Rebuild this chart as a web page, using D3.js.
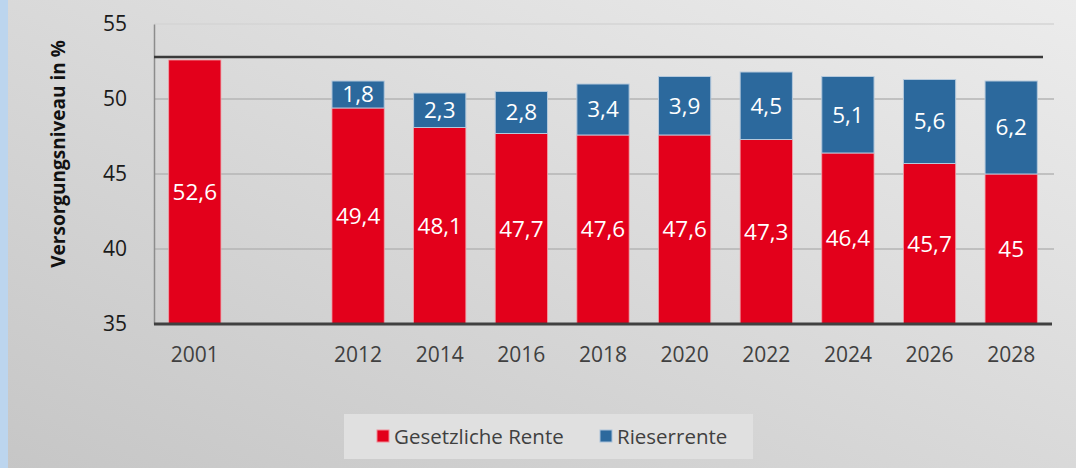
<!DOCTYPE html>
<html><head><meta charset="utf-8">
<script src="https://cdn.jsdelivr.net/npm/d3@7"></script>
<style>body{margin:0;overflow:hidden}svg{display:block}</style>
</head><body>
<script>
const categories = ["2001", "", "2012", "2014", "2016", "2018", "2020", "2022", "2024", "2026", "2028"];
const gesetzlich = [52.6, null, 49.4, 48.1, 47.7, 47.6, 47.6, 47.3, 46.4, 45.7, 45];
const riester = [null, null, 1.8, 2.3, 2.8, 3.4, 3.9, 4.5, 5.1, 5.6, 6.2];
const yTicks = [35, 40, 45, 50, 55];
const seriesNames = ["Gesetzliche Rente", "Rieserrente"];
const refLine = 52.8;

const W = 1076, H = 468;
const red = "#e3001b", blue = "#2c699d";
const FONT = "'Open Sans', sans-serif";
const svg = d3.select("body").append("svg").attr("width", W).attr("height", H);
const defs = svg.append("defs");
const g = defs.append("linearGradient").attr("id","bg").attr("x1","100%").attr("y1","0%").attr("x2","0%").attr("y2","100%");
g.append("stop").attr("offset","0%").attr("stop-color","#ececec");
g.append("stop").attr("offset","100%").attr("stop-color","#c6c6c6");
svg.append("rect").attr("width",W).attr("height",H).attr("fill","url(#bg)");
svg.append("rect").attr("width",8).attr("height",H).attr("fill","#bcd5ee");

const fmt = v => String(v).replace(".", ",");
const x = d3.scaleBand().domain(categories.map((c,i)=>i)).range([154, 1052]).paddingInner(0.36).paddingOuter(0.18);
const y = d3.scaleLinear().domain([35, 55]).range([324, 24]);

// gridlines
svg.append("g").selectAll("line").data(yTicks.slice(1)).join("line")
  .attr("x1",154).attr("x2",1054).attr("y1",d=>y(d)).attr("y2",d=>y(d))
  .attr("stroke", d => d===55 ? "#d4d4d4" : "#b4b4b4").attr("stroke-width",1.5);

// y axis
const yAxis = svg.append("g").attr("transform","translate(154,0)")
  .call(d3.axisLeft(y).tickValues(yTicks).tickSize(0).tickPadding(27));
yAxis.select(".domain").attr("stroke","#8c8c8c").attr("stroke-width",1.5);
yAxis.selectAll("text").attr("font-family",FONT).attr("font-size",21).attr("fill","#1a1a1a");

// reference line
svg.append("line").attr("x1",154).attr("x2",1043).attr("y1",y(refLine)).attr("y2",y(refLine))
  .attr("stroke","#3a3a3a").attr("stroke-width",2.5);

// bars
const idx = categories.map((c,i)=>i);
const bars = svg.append("g");
bars.selectAll("rect.g").data(idx.filter(i=>gesetzlich[i]!=null)).join("rect")
  .attr("x",i=>x(i)).attr("width",x.bandwidth())
  .attr("y",i=>y(gesetzlich[i])).attr("height",i=>y(35)-y(gesetzlich[i]))
  .attr("fill",red).attr("stroke","#f1a0a8").attr("stroke-width",0.8);
bars.selectAll("rect.r").data(idx.filter(i=>riester[i]!=null)).join("rect")
  .attr("x",i=>x(i)).attr("width",x.bandwidth())
  .attr("y",i=>y(gesetzlich[i]+riester[i])).attr("height",i=>y(gesetzlich[i])-y(gesetzlich[i]+riester[i]))
  .attr("fill",blue).attr("stroke","#b5c9dc").attr("stroke-width",1);

const lbl = svg.append("g").attr("font-family",FONT).attr("font-size",22.5).attr("fill","#fff").attr("text-anchor","middle");
lbl.selectAll("text.g").data(idx.filter(i=>gesetzlich[i]!=null)).join("text")
  .attr("x",i=>x(i)+x.bandwidth()/2).attr("y",i=>(y(35)+y(gesetzlich[i]))/2).attr("dy","0.35em")
  .text(i=>fmt(gesetzlich[i]));
lbl.selectAll("text.r").data(idx.filter(i=>riester[i]!=null)).join("text")
  .attr("x",i=>x(i)+x.bandwidth()/2).attr("y",i=>(y(gesetzlich[i])+y(gesetzlich[i]+riester[i]))/2).attr("dy","0.35em")
  .text(i=>fmt(riester[i]));

// x axis
svg.append("line").attr("x1",154).attr("x2",1052).attr("y1",y(35)).attr("y2",y(35)).attr("stroke","#404040").attr("stroke-width",3);
svg.append("g").selectAll("text").data(idx).join("text")
  .attr("x",i=>x(i)+x.bandwidth()/2).attr("y",362).attr("text-anchor","middle")
  .attr("font-family",FONT).attr("font-size",21).attr("fill","#404040")
  .text(i=>categories[i]);

// y title
svg.append("text").attr("transform","translate(65,154) rotate(-90)").attr("text-anchor","middle")
  .attr("font-family",FONT).attr("font-weight","bold").attr("font-size",19).attr("fill","#111")
  .text("Versorgungsniveau in %");

// legend
const lg = svg.append("g");
lg.append("rect").attr("x",344).attr("y",414).attr("width",409).attr("height",45).attr("fill","#e0e0e0");
const items = [{n:seriesNames[0],c:red,s:"#f08a96",x:377},{n:seriesNames[1],c:blue,s:"#a9c2da",x:600}];
items.forEach(it=>{
  lg.append("rect").attr("x",it.x).attr("y",430).attr("width",12).attr("height",12).attr("fill",it.c).attr("stroke",it.s).attr("stroke-width",1);
  lg.append("text").attr("x",it.x+17).attr("y",444).attr("font-family",FONT).attr("font-size",20.5).attr("fill","#404040").text(it.n);
});
</script>
</body></html>
